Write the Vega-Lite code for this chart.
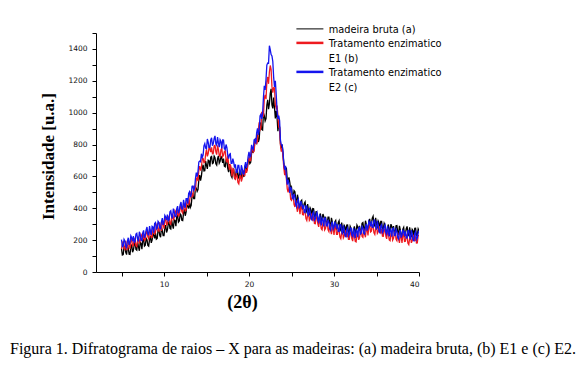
{
  "$schema": "https://vega.github.io/schema/vega-lite/v6.json",
  "autosize": {"type": "none"},
  "padding": {"left": 96, "top": 33, "right": 167, "bottom": 104},
  "width": 323,
  "height": 239,
  "background": "white",
  "config": {"view": {"stroke": null}},
  "title": {
    "text": "Figura 1. Difratograma de raios – X para as madeiras: (a) madeira bruta, (b) E1 e (c) E2.",
    "orient": "bottom",
    "anchor": "start",
    "frame": "group",
    "dx": -86,
    "offset": 30,
    "font": "Liberation Serif",
    "fontSize": 16,
    "fontWeight": "normal",
    "color": "black"
  },
  "data": {"values": [
    {"x":5.0,"a":147,"b":143,"c":203},{"x":5.2,"a":110,"b":193,"c":163},{"x":5.4,"a":161,"b":141,"c":195},{"x":5.6,"a":109,"b":161,"c":153},{"x":5.8,"a":146,"b":189,"c":215},
    {"x":6.0,"a":110,"b":145,"c":187},{"x":6.2,"a":172,"b":207,"c":215},{"x":6.4,"a":138,"b":167,"c":225},{"x":6.6,"a":188,"b":200,"c":190},{"x":6.8,"a":137,"b":159,"c":243},
    {"x":7.0,"a":157,"b":222,"c":192},{"x":7.2,"a":186,"b":196,"c":232},{"x":7.4,"a":143,"b":225,"c":197},{"x":7.6,"a":206,"b":237,"c":261},{"x":7.8,"a":168,"b":204,"c":230},
    {"x":8.0,"a":202,"b":258,"c":282},{"x":8.2,"a":162,"b":209,"c":233},{"x":8.4,"a":226,"b":250,"c":256},{"x":8.6,"a":200,"b":217,"c":287},{"x":8.8,"a":231,"b":282,"c":246},
    {"x":9.0,"a":244,"b":251,"c":311},{"x":9.2,"a":211,"b":305,"c":275},{"x":9.4,"a":266,"b":256,"c":310},{"x":9.6,"a":218,"b":280,"c":272},{"x":9.8,"a":260,"b":312,"c":338},
    {"x":10.0,"a":228,"b":272,"c":314},{"x":10.2,"a":294,"b":338,"c":346},{"x":10.4,"a":264,"b":302,"c":360},{"x":10.6,"a":318,"b":338,"c":328},{"x":10.8,"a":270,"b":300,"c":384},
    {"x":11.0,"a":294,"b":366,"c":336},{"x":11.2,"a":327,"b":342,"c":378},{"x":11.4,"a":288,"b":375,"c":347},{"x":11.6,"a":355,"b":389,"c":413},{"x":11.8,"a":320,"b":358,"c":384},
    {"x":12.0,"a":357,"b":415,"c":439},{"x":12.2,"a":323,"b":370,"c":395},{"x":12.4,"a":393,"b":415,"c":423},{"x":12.6,"a":375,"b":388,"c":461},{"x":12.8,"a":415,"b":461,"c":429},
    {"x":13.0,"a":437,"b":438,"c":503},{"x":13.2,"a":419,"b":508,"c":485},{"x":13.4,"a":489,"b":476,"c":539},{"x":13.6,"a":460,"b":522,"c":526},{"x":13.8,"a":526,"b":582,"c":624},
    {"x":14.0,"a":518,"b":570,"c":632},{"x":14.2,"a":608,"b":664,"c":696},{"x":14.4,"a":602,"b":656,"c":742},{"x":14.6,"a":673,"b":713,"c":734},{"x":14.8,"a":635,"b":689,"c":806},
    {"x":15.0,"a":669,"b":769,"c":774},{"x":15.2,"a":701,"b":743,"c":814},{"x":15.4,"a":661,"b":773,"c":780},{"x":15.6,"a":725,"b":783,"c":842},{"x":15.8,"a":685,"b":745,"c":806},
    {"x":16.0,"a":717,"b":795,"c":854},{"x":16.2,"a":671,"b":737,"c":796},{"x":16.4,"a":729,"b":769,"c":810},{"x":16.6,"a":694,"b":725,"c":830},{"x":16.8,"a":712,"b":777,"c":776},
    {"x":17.0,"a":712,"b":733,"c":828},{"x":17.2,"a":660,"b":761,"c":768},{"x":17.4,"a":696,"b":687,"c":780},{"x":17.6,"a":627,"b":680,"c":712},{"x":17.8,"a":640,"b":676,"c":742},
    {"x":18.0,"a":593,"b":600,"c":682},{"x":18.2,"a":645,"b":642,"c":688},{"x":18.4,"a":601,"b":582,"c":676},{"x":18.6,"a":644,"b":601,"c":625},{"x":18.8,"a":589,"b":553,"c":669},
    {"x":19.0,"a":606,"b":609,"c":609},{"x":19.2,"a":637,"b":587,"c":649},{"x":19.4,"a":596,"b":621,"c":615},{"x":19.6,"a":670,"b":648,"c":690},{"x":19.8,"a":650,"b":640,"c":680},
    {"x":20.0,"a":702,"b":720,"c":754},{"x":20.2,"a":688,"b":700,"c":730},{"x":20.4,"a":778,"b":770,"c":778},{"x":20.6,"a":774,"b":760,"c":830},{"x":20.8,"a":822,"b":842,"c":806},
    {"x":21.0,"a":863,"b":822,"c":902},{"x":21.2,"a":835,"b":939,"c":892},{"x":21.4,"a":939,"b":903,"c":990},{"x":21.6,"a":891,"b":985,"c":993},{"x":21.8,"a":982,"b":1089,"c":1168},
    {"x":22.0,"a":962,"b":1085,"c":1208},{"x":22.2,"a":1081,"b":1224,"c":1312},{"x":22.4,"a":1056,"b":1255,"c":1420},{"x":22.6,"a":1150,"b":1270,"c":1365},{"x":22.8,"a":1027,"b":1125,"c":1321},
    {"x":23.0,"a":1031,"b":1156,"c":1161},{"x":23.2,"a":1011,"b":1028,"c":1116},{"x":23.4,"a":883,"b":984,"c":960},{"x":23.6,"a":908,"b":907,"c":951},{"x":23.8,"a":774,"b":755,"c":798},
    {"x":24.0,"a":742,"b":720,"c":754},{"x":24.2,"a":644,"b":608,"c":642},{"x":24.4,"a":650,"b":586,"c":602},{"x":24.6,"a":574,"b":500,"c":580},{"x":24.8,"a":562,"b":523,"c":496},
    {"x":25.0,"a":532,"b":450,"c":518},{"x":25.2,"a":474,"b":480,"c":458},{"x":25.4,"a":504,"b":408,"c":470},{"x":25.6,"a":433,"b":410,"c":410},{"x":25.8,"a":455,"b":423,"c":456},
    {"x":26.0,"a":403,"b":363,"c":412},{"x":26.2,"a":451,"b":412,"c":426},{"x":26.4,"a":403,"b":359,"c":422},{"x":26.6,"a":440,"b":378,"c":373},{"x":26.8,"a":377,"b":324,"c":413},
    {"x":27.0,"a":386,"b":374,"c":349},{"x":27.2,"a":402,"b":334,"c":375},{"x":27.4,"a":346,"b":350,"c":327},{"x":27.6,"a":397,"b":349,"c":378},{"x":27.8,"a":346,"b":303,"c":334},
    {"x":28.0,"a":367,"b":345,"c":374},{"x":28.2,"a":315,"b":283,"c":312},{"x":28.4,"a":367,"b":311,"c":322},{"x":28.6,"a":329,"b":265,"c":340},{"x":28.8,"a":347,"b":317,"c":286},
    {"x":29.0,"a":347,"b":273,"c":338},{"x":29.2,"a":302,"b":314,"c":289},{"x":29.4,"a":345,"b":253,"c":312},{"x":29.6,"a":284,"b":265,"c":262},{"x":29.8,"a":314,"b":285,"c":316},
    {"x":30.0,"a":270,"b":233,"c":280},{"x":30.2,"a":323,"b":286,"c":299},{"x":30.4,"a":280,"b":237,"c":300},{"x":30.6,"a":322,"b":260,"c":254},{"x":30.8,"a":261,"b":209,"c":297},
    {"x":31.0,"a":272,"b":262,"c":236},{"x":31.2,"a":292,"b":226,"c":266},{"x":31.4,"a":240,"b":246,"c":222},{"x":31.6,"a":295,"b":248,"c":277},{"x":31.8,"a":248,"b":205,"c":236},
    {"x":32.0,"a":274,"b":250,"c":279},{"x":32.2,"a":228,"b":194,"c":223},{"x":32.4,"a":286,"b":228,"c":239},{"x":32.6,"a":255,"b":189,"c":264},{"x":32.8,"a":282,"b":250,"c":219},
    {"x":33.0,"a":290,"b":215,"c":280},{"x":33.2,"a":256,"b":267,"c":242},{"x":33.4,"a":310,"b":218,"c":277},{"x":33.6,"a":260,"b":240,"c":237},{"x":33.8,"a":301,"b":271,"c":302},
    {"x":34.0,"a":268,"b":230,"c":277},{"x":34.2,"a":333,"b":294,"c":307},{"x":34.4,"a":302,"b":256,"c":319},{"x":34.6,"a":350,"b":285,"c":280},{"x":34.8,"a":290,"b":236,"c":325},
    {"x":35.0,"a":302,"b":291,"c":266},{"x":35.2,"a":320,"b":252,"c":293},{"x":35.4,"a":265,"b":269,"c":246},{"x":35.6,"a":318,"b":269,"c":298},{"x":35.8,"a":269,"b":224,"c":255},
    {"x":36.0,"a":292,"b":267,"c":296},{"x":36.2,"a":243,"b":208,"c":237},{"x":36.4,"a":298,"b":239,"c":250},{"x":36.6,"a":263,"b":197,"c":272},{"x":36.8,"a":284,"b":252,"c":221},
    {"x":37.0,"a":288,"b":211,"c":276},{"x":37.2,"a":246,"b":255,"c":230},{"x":37.4,"a":291,"b":196,"c":255},{"x":37.6,"a":233,"b":210,"c":207},{"x":37.8,"a":265,"b":232,"c":263},
    {"x":38.0,"a":223,"b":182,"c":229},{"x":38.2,"a":280,"b":238,"c":251},{"x":38.4,"a":241,"b":193,"c":256},{"x":38.6,"a":286,"b":219,"c":214},{"x":38.8,"a":229,"b":172,"c":261},
    {"x":39.0,"a":244,"b":229,"c":204},{"x":39.2,"a":267,"b":196,"c":237},{"x":39.4,"a":218,"b":219,"c":196},{"x":39.6,"a":275,"b":224,"c":253},{"x":39.8,"a":230,"b":183,"c":214},
    {"x":40.0,"a":257,"b":230,"c":259},
    {"x":5.1,"a":107,"b":177,"c":159},{"x":5.3,"a":158,"b":147,"c":205},{"x":5.5,"a":123,"b":195,"c":159},{"x":5.7,"a":169,"b":137,"c":195},{"x":5.9,"a":112,"b":183,"c":171},
    {"x":6.1,"a":158,"b":203,"c":227},{"x":6.3,"a":124,"b":163,"c":193},{"x":6.5,"a":172,"b":209,"c":185},{"x":6.7,"a":142,"b":164,"c":238},{"x":6.9,"a":191,"b":201,"c":205},
    {"x":7.1,"a":133,"b":179,"c":253},{"x":7.3,"a":180,"b":236,"c":198},{"x":7.5,"a":201,"b":204,"c":246},{"x":7.7,"a":163,"b":198,"c":214},{"x":7.9,"a":211,"b":253,"c":265},
    {"x":8.1,"a":167,"b":221,"c":237},{"x":8.3,"a":205,"b":270,"c":288},{"x":8.5,"a":183,"b":217,"c":233},{"x":8.7,"a":242,"b":266,"c":282},{"x":8.9,"a":211,"b":235,"c":305},
    {"x":9.1,"a":206,"b":287,"c":269},{"x":9.3,"a":261,"b":260,"c":318},{"x":9.5,"a":230,"b":312,"c":276},{"x":9.7,"a":280,"b":258,"c":316},{"x":9.9,"a":228,"b":308,"c":296},
    {"x":10.1,"a":278,"b":332,"c":356},{"x":10.3,"a":248,"b":296,"c":326},{"x":10.5,"a":300,"b":346,"c":322},{"x":10.7,"a":274,"b":304,"c":378},{"x":10.9,"a":326,"b":344,"c":348},
    {"x":11.1,"a":272,"b":324,"c":398},{"x":11.3,"a":323,"b":385,"c":347},{"x":11.5,"a":348,"b":355,"c":397},{"x":11.7,"a":313,"b":352,"c":368},{"x":11.9,"a":364,"b":409,"c":421},
    {"x":12.1,"a":325,"b":380,"c":397},{"x":12.3,"a":369,"b":433,"c":453},{"x":12.5,"a":353,"b":384,"c":403},{"x":12.7,"a":421,"b":441,"c":461},{"x":12.9,"a":399,"b":418,"c":493},
    {"x":13.1,"a":406,"b":482,"c":470},{"x":13.3,"a":476,"b":472,"c":538},{"x":13.5,"a":460,"b":540,"c":514},{"x":13.7,"a":534,"b":514,"c":586},{"x":13.9,"a":506,"b":592,"c":598},
    {"x":14.1,"a":580,"b":644,"c":690},{"x":14.3,"a":574,"b":636,"c":692},{"x":14.5,"a":650,"b":714,"c":720},{"x":14.7,"a":634,"b":686,"c":792},{"x":14.9,"a":696,"b":740,"c":778},
    {"x":15.1,"a":647,"b":726,"c":835},{"x":15.3,"a":697,"b":784,"c":781},{"x":15.5,"a":721,"b":752,"c":829},{"x":15.7,"a":681,"b":742,"c":793},{"x":15.9,"a":727,"b":792,"c":839},
    {"x":16.1,"a":679,"b":754,"c":805},{"x":16.3,"a":711,"b":794,"c":847},{"x":16.5,"a":683,"b":732,"c":783},{"x":16.7,"a":729,"b":768,"c":819},{"x":16.9,"a":685,"b":724,"c":829},
    {"x":17.1,"a":664,"b":756,"c":774},{"x":17.3,"a":700,"b":704,"c":800},{"x":17.5,"a":650,"b":730,"c":734},{"x":17.7,"a":678,"b":640,"c":738},{"x":17.9,"a":604,"b":654,"c":682},
    {"x":18.1,"a":636,"b":648,"c":711},{"x":18.3,"a":592,"b":588,"c":655},{"x":18.5,"a":630,"b":614,"c":625},{"x":18.7,"a":597,"b":562,"c":669},{"x":18.9,"a":642,"b":592,"c":627},
    {"x":19.1,"a":584,"b":568,"c":670},{"x":19.3,"a":633,"b":630,"c":616},{"x":19.5,"a":656,"b":602,"c":664},{"x":19.7,"a":636,"b":622,"c":654},{"x":19.9,"a":702,"b":702,"c":726},
    {"x":20.1,"a":680,"b":698,"c":722},{"x":20.3,"a":744,"b":776,"c":798},{"x":20.5,"a":748,"b":752,"c":768},{"x":20.7,"a":824,"b":818,"c":834},{"x":20.9,"a":810,"b":804,"c":874},
    {"x":21.1,"a":816,"b":894,"c":861},{"x":21.3,"a":920,"b":891,"c":980},{"x":21.5,"a":895,"b":1005,"c":961},{"x":21.7,"a":998,"b":980,"c":1097},{"x":21.9,"a":948,"b":1111,"c":1143},
    {"x":22.1,"a":1047,"b":1195,"c":1299},{"x":22.3,"a":1022,"b":1181,"c":1310},{"x":22.5,"a":1120,"b":1296,"c":1395},{"x":22.7,"a":1049,"b":1165,"c":1356},{"x":22.9,"a":1095,"b":1157,"c":1223},
    {"x":23.1,"a":964,"b":1047,"c":1200},{"x":23.3,"a":971,"b":1045,"c":1014},{"x":23.5,"a":939,"b":908,"c":981},{"x":23.7,"a":805,"b":798,"c":828},{"x":23.9,"a":800,"b":778,"c":798},
    {"x":24.1,"a":678,"b":652,"c":678},{"x":24.3,"a":658,"b":638,"c":666},{"x":24.5,"a":578,"b":522,"c":548},{"x":24.7,"a":594,"b":529,"c":554},{"x":24.9,"a":520,"b":456,"c":534},
    {"x":25.1,"a":481,"b":474,"c":464},{"x":25.3,"a":511,"b":424,"c":490},{"x":25.5,"a":455,"b":452,"c":424},{"x":25.7,"a":485,"b":378,"c":444},{"x":25.9,"a":413,"b":409,"c":404},
    {"x":26.1,"a":444,"b":414,"c":445},{"x":26.3,"a":396,"b":361,"c":397},{"x":26.5,"a":430,"b":394,"c":375},{"x":26.7,"a":389,"b":336,"c":415},{"x":26.9,"a":426,"b":360,"c":369},
    {"x":27.1,"a":356,"b":324,"c":403},{"x":27.3,"a":390,"b":368,"c":335},{"x":27.5,"a":398,"b":322,"c":369},{"x":27.7,"a":347,"b":304,"c":325},{"x":27.9,"a":382,"b":346,"c":363},
    {"x":28.1,"a":326,"b":302,"c":323},{"x":28.3,"a":352,"b":338,"c":361},{"x":28.5,"a":318,"b":272,"c":293},{"x":28.7,"a":364,"b":308,"c":329},{"x":28.9,"a":320,"b":264,"c":339},
    {"x":29.1,"a":302,"b":303,"c":290},{"x":29.3,"a":345,"b":264,"c":327},{"x":29.5,"a":302,"b":303,"c":272},{"x":29.7,"a":340,"b":237,"c":300},{"x":29.9,"a":276,"b":275,"c":268},
    {"x":30.1,"a":314,"b":286,"c":315},{"x":30.3,"a":271,"b":237,"c":272},{"x":30.5,"a":310,"b":274,"c":255},{"x":30.7,"a":271,"b":219,"c":298},{"x":30.9,"a":310,"b":246,"c":255},
    {"x":31.1,"a":244,"b":214,"c":292},{"x":31.3,"a":282,"b":262,"c":228},{"x":31.5,"a":294,"b":220,"c":266},{"x":31.7,"a":248,"b":205,"c":225},{"x":31.9,"a":287,"b":250,"c":266},
    {"x":32.1,"a":236,"b":210,"c":231},{"x":32.3,"a":268,"b":252,"c":275},{"x":32.5,"a":240,"b":192,"c":213},{"x":32.7,"a":294,"b":237,"c":258},{"x":32.9,"a":259,"b":202,"c":277},
    {"x":33.1,"a":251,"b":250,"c":237},{"x":33.3,"a":305,"b":223,"c":286},{"x":33.5,"a":273,"b":273,"c":242},{"x":33.7,"a":322,"b":218,"c":281},{"x":33.9,"a":269,"b":267,"c":260},
    {"x":34.1,"a":318,"b":289,"c":318},{"x":34.3,"a":287,"b":251,"c":286},{"x":34.5,"a":338,"b":299,"c":280},{"x":34.7,"a":300,"b":246,"c":325},{"x":34.9,"a":340,"b":275,"c":284},
    {"x":35.1,"a":273,"b":242,"c":321},{"x":35.3,"a":308,"b":287,"c":254},{"x":35.5,"a":318,"b":242,"c":289},{"x":35.7,"a":269,"b":225,"c":246},{"x":35.9,"a":306,"b":268,"c":285},
    {"x":36.1,"a":252,"b":226,"c":247},{"x":36.3,"a":281,"b":265,"c":288},{"x":36.5,"a":250,"b":202,"c":223},{"x":36.7,"a":300,"b":241,"c":262},{"x":36.9,"a":260,"b":200,"c":275},
    {"x":37.1,"a":245,"b":242,"c":229},{"x":37.3,"a":290,"b":205,"c":268},{"x":37.5,"a":250,"b":247,"c":216},{"x":37.7,"a":290,"b":183,"c":246},{"x":37.9,"a":228,"b":223,"c":216},
    {"x":38.1,"a":268,"b":237,"c":266},{"x":38.3,"a":229,"b":192,"c":227},{"x":38.5,"a":272,"b":232,"c":213},{"x":38.7,"a":237,"b":181,"c":260},{"x":38.9,"a":280,"b":212,"c":221},
    {"x":39.1,"a":218,"b":183,"c":262},{"x":39.3,"a":259,"b":234,"c":201},{"x":39.5,"a":274,"b":195,"c":242},{"x":39.7,"a":229,"b":182,"c":203},{"x":39.9,"a":270,"b":229,"c":246}
  ]},
  "transform": [{"fold": ["a", "b", "c"], "as": ["serie", "valor"]}],
  "mark": {"type": "line", "strokeWidth": 1.3, "clip": true},
  "encoding": {
    "x": {
      "field": "x", "type": "quantitative",
      "scale": {"domain": [2, 40], "nice": false, "zero": false},
      "axis": {
        "values": [5, 10, 15, 20, 25, 30, 35, 40],
        "labelExpr": "datum.value % 10 === 0 ? datum.label : ''",
        "grid": false, "domainColor": "black", "tickColor": "black", "tickSize": 4,
        "labelFont": "DejaVu Sans", "labelFontSize": 7.5, "labelColor": "#111", "labelPadding": 4,
        "title": "(2θ)", "titleFont": "Liberation Serif", "titleFontSize": 18, "titleFontWeight": "bold",
        "titleColor": "black", "titleX": 146, "titleY": 35, "titleAlign": "center", "titleBaseline": "alphabetic"
      }
    },
    "y": {
      "field": "valor", "type": "quantitative",
      "scale": {"domain": [0, 1500], "nice": false},
      "axis": {
        "values": [0, 100, 200, 300, 400, 500, 600, 700, 800, 900, 1000, 1100, 1200, 1300, 1400, 1500],
        "labelExpr": "datum.value % 200 === 0 && datum.value < 1500 ? datum.label : ''",
        "format": "d",
        "grid": false, "domainColor": "black", "tickColor": "black", "tickSize": 4,
        "labelFont": "DejaVu Sans", "labelFontSize": 7.5, "labelColor": "#111", "labelPadding": 5,
        "title": "Intensidade [u.a.]", "titleFont": "Liberation Serif", "titleFontSize": 17, "titleFontWeight": "bold",
        "titleColor": "black", "titleX": -48, "titleY": 123, "titleAngle": 270, "titleAlign": "center", "titleBaseline": "middle"
      }
    },
    "color": {
      "field": "serie", "type": "nominal",
      "scale": {"domain": ["a", "b", "c"], "range": ["#000000", "#ee1a1f", "#1414ee"]},
      "legend": {
        "title": null,
        "orient": "none",
        "legendX": 209,
        "legendY": -9,
        "padding": 0,
        "symbolType": "stroke",
        "symbolSize": 729,
        "symbolStrokeWidth": 2,
        "labelOffset": 14,
        "rowPadding": 2,
        "labelFont": "DejaVu Sans",
        "labelFontSize": 9.8,
        "labelColor": "black",
        "labelLimit": 300,
        "labelBaseline": "top",
        "labelExpr": "datum.value === 'a' ? 'madeira bruta (a)' : datum.value === 'b' ? ['Tratamento enzimatico', 'E1 (b)'] : ['Tratamento enzimatico', 'E2 (c)']",
        "encode": {
          "labels": {"update": {"dy": {"value": -4}, "lineHeight": {"value": 15}}},
          "symbols": {"update": {
            "strokeWidth": {"signal": "datum.value === 'a' ? 1 : 2.5"},
            "stroke": {"signal": "datum.value === 'a' ? '#000000' : datum.value === 'b' ? '#b3282c' : '#1a1aa8'"}
          }}
        }
      }
    }
  }
}
